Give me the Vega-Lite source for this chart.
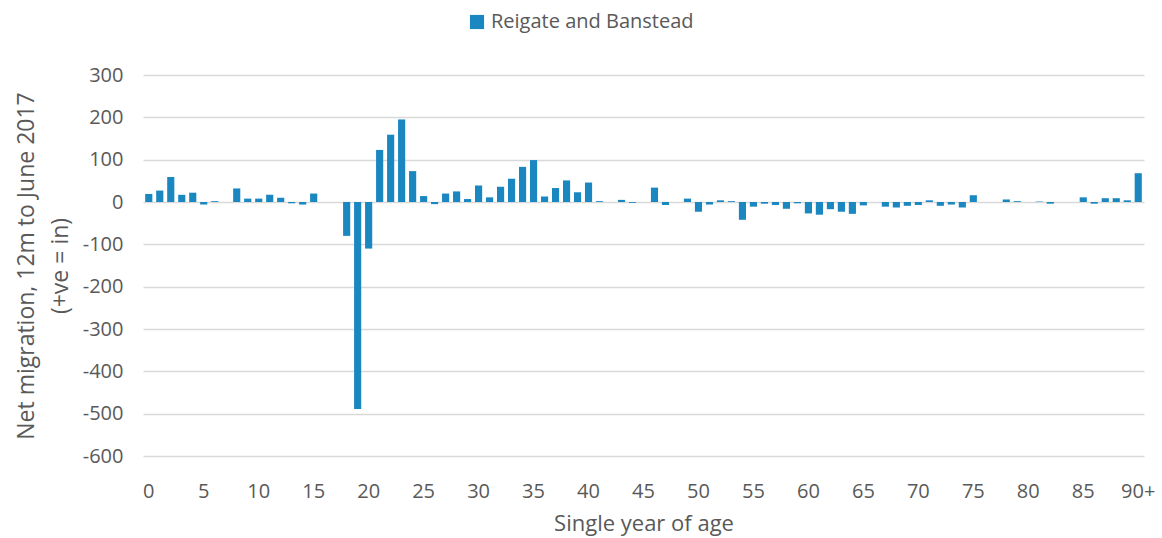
{
  "$schema": "https://vega.github.io/schema/vega-lite/v6.json",
  "width": 1001,
  "height": 381,
  "autosize": {"type": "none"},
  "padding": {"left": 143, "top": 75, "right": 18, "bottom": 82},
  "background": "white",
  "config": {
    "font": "Open Sans",
    "view": {"stroke": null},
    "axis": {"labelColor": "#595959", "titleColor": "#595959", "labelFont": "Open Sans", "titleFont": "Open Sans", "titleFontWeight": "normal"}
  },
  "data": {
    "values": [
      {"age": "0", "value": 19}, {"age": "1", "value": 27}, {"age": "2", "value": 59}, {"age": "3", "value": 17}, {"age": "4", "value": 22},
      {"age": "5", "value": -6}, {"age": "6", "value": 2}, {"age": "7", "value": 0}, {"age": "8", "value": 32}, {"age": "9", "value": 8},
      {"age": "10", "value": 8}, {"age": "11", "value": 17}, {"age": "12", "value": 10}, {"age": "13", "value": -3}, {"age": "14", "value": -6},
      {"age": "15", "value": 20}, {"age": "16", "value": 0}, {"age": "17", "value": 0}, {"age": "18", "value": -80}, {"age": "19", "value": -489},
      {"age": "20", "value": -110}, {"age": "21", "value": 123}, {"age": "22", "value": 159}, {"age": "23", "value": 195}, {"age": "24", "value": 73},
      {"age": "25", "value": 14}, {"age": "26", "value": -5}, {"age": "27", "value": 20}, {"age": "28", "value": 25}, {"age": "29", "value": 7},
      {"age": "30", "value": 39}, {"age": "31", "value": 11}, {"age": "32", "value": 36}, {"age": "33", "value": 55}, {"age": "34", "value": 83},
      {"age": "35", "value": 99}, {"age": "36", "value": 13}, {"age": "37", "value": 33}, {"age": "38", "value": 51}, {"age": "39", "value": 23},
      {"age": "40", "value": 46}, {"age": "41", "value": 2}, {"age": "42", "value": 0}, {"age": "43", "value": 5}, {"age": "44", "value": -2},
      {"age": "45", "value": 0}, {"age": "46", "value": 34}, {"age": "47", "value": -7}, {"age": "48", "value": 0}, {"age": "49", "value": 8},
      {"age": "50", "value": -23}, {"age": "51", "value": -6}, {"age": "52", "value": 4}, {"age": "53", "value": 2}, {"age": "54", "value": -42},
      {"age": "55", "value": -11}, {"age": "56", "value": -4}, {"age": "57", "value": -7}, {"age": "58", "value": -16}, {"age": "59", "value": -3},
      {"age": "60", "value": -27}, {"age": "61", "value": -30}, {"age": "62", "value": -17}, {"age": "63", "value": -23}, {"age": "64", "value": -28},
      {"age": "65", "value": -8}, {"age": "66", "value": 0}, {"age": "67", "value": -11}, {"age": "68", "value": -13}, {"age": "69", "value": -9},
      {"age": "70", "value": -7}, {"age": "71", "value": 4}, {"age": "72", "value": -9}, {"age": "73", "value": -6}, {"age": "74", "value": -13},
      {"age": "75", "value": 16}, {"age": "76", "value": 0}, {"age": "77", "value": 0}, {"age": "78", "value": 6}, {"age": "79", "value": 2},
      {"age": "80", "value": 0}, {"age": "81", "value": 1}, {"age": "82", "value": -4}, {"age": "83", "value": 0}, {"age": "84", "value": 0},
      {"age": "85", "value": 11}, {"age": "86", "value": -4}, {"age": "87", "value": 9}, {"age": "88", "value": 9}, {"age": "89", "value": 4},
      {"age": "90+", "value": 68}
    ]
  },
  "mark": {"type": "bar"},
  "encoding": {
    "x": {
      "field": "age",
      "type": "ordinal",
      "sort": null,
      "scale": {"paddingInner": 0.35, "paddingOuter": 0.2},
      "axis": {
        "title": "Single year of age",
        "titleFontSize": 22,
        "titlePadding": 12,
        "labelFontSize": 20,
        "labelAngle": 0,
        "labelPadding": 25,
        "ticks": false,
        "domain": false,
        "labelExpr": "datum.value == '90+' || toNumber(datum.value) % 5 == 0 ? datum.value : ''"
      }
    },
    "y": {
      "field": "value",
      "type": "quantitative",
      "scale": {"domain": [-600, 300], "nice": false},
      "axis": {
        "values": [-600, -500, -400, -300, -200, -100, 0, 100, 200, 300],
        "labelExpr": "'' + datum.value",
        "title": ["Net migration, 12m to June 2017", "(+ve = in)"],
        "titleFontSize": 23,
        "titleLineHeight": 34,
        "titlePadding": 10,
        "labelFontSize": 20,
        "labelPadding": 20,
        "ticks": false,
        "domain": false,
        "gridColor": "#d9d9d9",
        "gridWidth": 1.5
      }
    },
    "color": {
      "datum": "Reigate and Banstead",
      "scale": {"range": ["#1a87c1"]},
      "legend": {
        "title": null,
        "orient": "none",
        "legendX": 324,
        "legendY": -63,
        "symbolType": "square",
        "symbolSize": 200,
        "symbolStrokeWidth": 0,
        "labelFontSize": 20,
        "labelLimit": 400,
        "labelColor": "#595959",
        "labelFont": "Open Sans"
      }
    }
  }
}
